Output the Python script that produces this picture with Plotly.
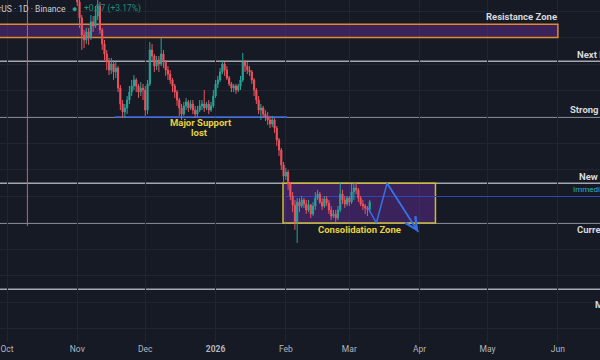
import plotly.graph_objects as go
import pandas as pd

# ---------------- data (LINK/USDT daily) ----------------
dates = pd.date_range("2025-10-01", "2026-03-10", freq="D")

opens = [
    20.9, 21.3, 21.9, 22.1, 21.8, 22.2, 22.5, 21.6, 22.0, 22.3,
    17.6, 18.1, 18.9, 19.2, 18.4, 18.0, 17.4, 16.9, 17.3, 17.6,
    18.0, 17.8, 17.2, 17.6, 17.9, 18.0, 18.4, 18.6, 18.1, 17.8,
    17.4,
    16.98, 16.34, 15.74, 15.09, 14.91, 15.21, 14.98, 15.59, 15.43, 15.81,
    16.19, 15.28, 14.75, 14.38, 14.08, 13.77, 14.00, 13.70, 13.85, 13.09,
    12.49, 12.19, 12.34, 12.64, 12.94, 13.17, 13.40, 13.17, 12.94, 13.09,
    13.02, 12.26, 13.25, 14.53, 14.30, 13.92, 14.15, 14.00, 14.38, 14.08,
    13.77, 13.62, 13.40, 13.17, 12.94, 12.64, 12.34, 12.11, 12.42, 12.57,
    12.34, 12.49, 12.26, 12.11, 12.26, 12.42, 12.49, 12.34, 12.49, 12.26,
    12.42, 12.79, 13.25, 13.40, 13.70, 14.00, 13.77, 13.47, 13.25, 13.09,
    13.17, 13.02, 13.17, 13.40, 14.08, 13.92, 13.77, 13.70, 13.40, 13.02,
    12.64, 12.26, 12.34, 12.11, 12.00, 11.89, 11.74, 11.89, 11.58, 11.13,
    10.75, 10.19, 9.77, 9.92, 9.47, 9.02, 8.68, 8.04, 8.79, 8.64,
    8.87, 8.72, 8.49, 8.68, 8.34, 8.64, 8.94, 9.09, 8.79, 8.64,
    8.91, 8.75, 8.49, 8.26, 8.34, 8.19, 8.49, 9.09, 8.87, 8.72,
    8.94, 8.79, 9.17, 9.32, 9.25, 8.94, 8.72, 8.64, 8.57, 8.52,
]
highs = [
    21.6, 22.2, 22.5, 22.3, 22.5, 22.9, 22.7, 22.3, 22.6, 22.6,
    18.6, 19.3, 19.7, 19.4, 18.7, 18.2, 17.6, 17.5, 17.9, 18.3,
    18.2, 17.9, 17.8, 18.1, 18.3, 18.7, 18.9, 18.8, 18.3, 18.0,
    17.6,
    17.17, 16.42, 15.85, 15.28, 15.36, 15.36, 15.85, 15.81, 16.19, 16.72,
    16.34, 15.36, 14.91, 14.53, 14.23, 14.23, 14.15, 14.08, 13.92, 13.21,
    12.64, 12.49, 12.79, 13.17, 13.40, 13.58, 13.47, 13.25, 13.32, 13.25,
    13.17, 13.40, 14.83, 14.75, 14.38, 14.30, 14.30, 14.98, 14.53, 14.15,
    13.92, 13.77, 13.47, 13.25, 13.02, 12.72, 12.49, 12.57, 12.72, 12.64,
    12.64, 12.64, 12.42, 12.42, 12.64, 12.64, 13.02, 12.57, 12.64, 12.57,
    13.02, 13.40, 13.55, 13.85, 14.15, 14.08, 13.92, 13.55, 13.32, 13.25,
    13.25, 13.25, 13.55, 14.42, 14.15, 14.08, 13.92, 13.77, 13.47, 13.09,
    12.79, 12.49, 12.42, 12.26, 12.19, 12.04, 12.04, 11.96, 11.66, 11.21,
    10.83, 10.30, 10.08, 10.00, 9.55, 9.17, 8.87, 8.94, 8.94, 9.02,
    8.94, 8.87, 8.87, 8.72, 8.79, 9.17, 9.25, 9.17, 8.94, 9.02,
    9.02, 8.87, 8.64, 8.49, 8.49, 8.64, 9.51, 9.25, 9.02, 9.02,
    9.02, 9.47, 9.51, 9.51, 9.32, 9.02, 8.87, 8.72, 8.64, 8.87,
]
lows = [
    20.7, 21.1, 21.7, 21.5, 21.6, 22.0, 21.3, 21.4, 21.8, 7.89,
    17.2, 17.9, 18.7, 18.1, 17.7, 17.1, 16.6, 16.7, 17.1, 17.4,
    17.5, 17.0, 16.9, 17.4, 17.6, 17.8, 18.2, 17.9, 17.5, 17.2,
    16.8,
    16.19, 15.36, 14.53, 14.60, 14.75, 14.72, 14.91, 15.21, 15.36, 15.66,
    15.13, 14.53, 14.15, 13.77, 13.58, 13.62, 13.40, 13.47, 12.94, 12.26,
    11.96, 11.96, 12.11, 12.49, 12.79, 13.02, 12.94, 12.72, 12.79, 12.64,
    12.04, 12.11, 13.17, 14.08, 13.70, 13.77, 13.70, 13.92, 13.85, 13.55,
    13.40, 13.25, 12.94, 12.72, 12.42, 12.04, 11.89, 12.04, 12.26, 12.19,
    12.26, 12.11, 11.96, 12.00, 12.19, 12.26, 12.19, 12.26, 12.11, 12.19,
    12.34, 12.72, 13.09, 13.32, 13.62, 13.55, 13.40, 13.17, 12.94, 12.94,
    12.87, 12.94, 13.02, 13.32, 13.70, 13.62, 13.55, 13.25, 12.79, 12.49,
    12.11, 11.89, 11.96, 11.85, 11.70, 11.58, 11.62, 11.40, 10.91, 10.53,
    10.00, 9.55, 9.62, 9.25, 8.87, 8.41, 7.74, 7.25, 8.41, 8.57,
    8.57, 8.34, 8.41, 8.19, 8.26, 8.49, 8.87, 8.72, 8.49, 8.57,
    8.64, 8.34, 8.11, 8.19, 8.04, 8.11, 8.41, 8.72, 8.57, 8.64,
    8.64, 8.72, 8.87, 9.09, 8.79, 8.64, 8.49, 8.34, 8.26, 8.41,
]
closes = [
    21.3, 21.9, 22.1, 21.8, 22.2, 22.5, 21.6, 22.0, 22.3, 17.6,
    18.1, 18.9, 19.2, 18.4, 18.0, 17.4, 16.9, 17.3, 17.6, 18.0,
    17.8, 17.2, 17.6, 17.9, 18.0, 18.4, 18.6, 18.1, 17.8, 17.4,
    16.98,
    16.34, 15.74, 15.09, 14.91, 15.21, 14.98, 15.59, 15.43, 15.81, 16.19,
    15.28, 14.75, 14.38, 14.08, 13.77, 14.00, 13.70, 13.85, 13.09, 12.49,
    12.19, 12.34, 12.64, 12.94, 13.17, 13.40, 13.17, 12.94, 13.09, 13.02,
    12.26, 13.25, 14.53, 14.30, 13.92, 14.15, 14.00, 14.38, 14.08, 13.77,
    13.62, 13.40, 13.17, 12.94, 12.64, 12.34, 12.11, 12.42, 12.57, 12.34,
    12.49, 12.26, 12.11, 12.26, 12.42, 12.49, 12.34, 12.49, 12.26, 12.42,
    12.79, 13.25, 13.40, 13.70, 14.00, 13.77, 13.47, 13.25, 13.09, 13.17,
    13.02, 13.17, 13.40, 14.08, 13.92, 13.77, 13.70, 13.40, 13.02, 12.64,
    12.26, 12.34, 12.11, 12.00, 11.89, 11.74, 11.89, 11.58, 11.13, 10.75,
    10.19, 9.77, 9.92, 9.47, 9.02, 8.68, 8.04, 8.79, 8.64, 8.87,
    8.72, 8.49, 8.68, 8.34, 8.64, 8.94, 9.09, 8.79, 8.64, 8.91,
    8.75, 8.49, 8.26, 8.34, 8.19, 8.49, 9.09, 8.87, 8.72, 8.94,
    8.79, 9.17, 9.32, 9.25, 8.94, 8.72, 8.64, 8.57, 8.52, 8.79,
]

# horizontal levels (price)
level_prices = [14.1, 12.0, 9.5, 8.0, 5.5]
level_labels = ["Next Resistance", "Strong Resistance", "New Resistance",
                "Current Support", "Major Support"]
resistance_zone = [15.0, 15.5]
consolidation_zone = [8.0, 9.5]
consolidation_dates = ["2026-01-30 18:00", "2026-04-08 00:00"]
major_support_price = 12.0
major_support_dates = ["2025-11-17 15:00", "2026-02-01 12:00"]
immediate_price = 9.0
immediate_start = "2026-02-01 00:00"

# projected zig-zag path
zig_dates = ["2026-03-09 06:00", "2026-03-12 22:00", "2026-03-17 16:00", "2026-03-31 10:00"]
zig_prices = [8.57, 8.0, 9.5, 7.66]

month_ticks = ["2025-10-01", "2025-11-01", "2025-12-01", "2026-01-01", "2026-02-01",
               "2026-03-01", "2026-04-01", "2026-05-01", "2026-06-01"]
month_text = ["Oct", "Nov", "Dec", "<b>2026</b>", "Feb", "Mar", "Apr", "May", "Jun"]

# ---------------- styling ----------------
BG = "#161a25"
GRID = "#212532"
UP = "#26a69a"
DN = "#f0525c"
LEVEL = "rgba(190,193,200,0.85)"
YEL = "#e8cf3d"
FONT = "Roboto"

fig = go.Figure()
fig.add_trace(go.Candlestick(
    x=dates, open=opens, high=highs, low=lows, close=closes,
    increasing=dict(line=dict(color=UP, width=1), fillcolor=UP),
    decreasing=dict(line=dict(color=DN, width=1), fillcolor=DN),
    whiskerwidth=0, hoverinfo="skip", showlegend=False,
))
fig.add_trace(go.Scatter(
    x=zig_dates, y=zig_prices, mode="lines",
    line=dict(color="#3570e6", width=1.5), hoverinfo="skip", showlegend=False,
))

shapes = []
# grey level lines
for p in level_prices:
    shapes.append(dict(type="line", xref="paper", x0=0, x1=1, yref="y", y0=p, y1=p,
                       line=dict(color=LEVEL, width=1.5), layer="between"))
# resistance zone
shapes.append(dict(type="rect", xref="x", x0="2025-09-01", x1="2026-06-01", yref="y",
                   y0=resistance_zone[0], y1=resistance_zone[1],
                   fillcolor="rgba(110,50,170,0.40)",
                   line=dict(color="#e08a2c", width=1.5), layer="between"))
# consolidation zone
shapes.append(dict(type="rect", xref="x", x0=consolidation_dates[0], x1=consolidation_dates[1],
                   yref="y", y0=consolidation_zone[0], y1=consolidation_zone[1],
                   fillcolor="rgba(110,50,170,0.40)",
                   line=dict(color="#cdb93c", width=1.5), layer="between"))
# blue support line
shapes.append(dict(type="line", xref="x", x0=major_support_dates[0], x1=major_support_dates[1],
                   yref="y", y0=major_support_price, y1=major_support_price,
                   line=dict(color="#3a67e0", width=1.5), layer="between"))
# immediate resistance blue line
shapes.append(dict(type="line", xref="x", x0=immediate_start, x1="2026-07-15",
                   yref="y", y0=immediate_price, y1=immediate_price,
                   line=dict(color="#3446b8", width=1), layer="between"))

W, PH = 600.0, 342.0
def px(xp):
    return xp / W

annotations = []
# right-side level labels (cut off by the window edge, as in the reference)
label_pos = [(575, 14.34), (568, 12.30), (577, 9.77), (575, 7.77), (593, 4.91)]
for (xp, yv), txt in zip(label_pos, level_labels):
    annotations.append(dict(xref="paper", x=px(xp), xanchor="left", yref="y", y=yv,
                            text="<b>" + txt + "</b>", showarrow=False,
                            font=dict(family=FONT, size=9.5, color="#d6d8de")))
annotations.append(dict(xref="paper", x=px(571), xanchor="left", yref="y", y=9.25,
                        text="Immediate Resistance", showarrow=False,
                        font=dict(family=FONT, size=8, color="#2bb3c8")))
annotations.append(dict(xref="paper", x=px(559), xanchor="right", yref="y", y=15.78,
                        text="<b>Resistance Zone</b>", showarrow=False,
                        font=dict(family=FONT, size=9.5, color="#d6d8de")))
annotations.append(dict(xref="x", x="2025-12-25 14:00", xanchor="center", yref="y", y=11.78,
                        text="<b>Major Support</b>", showarrow=False,
                        font=dict(family=FONT, size=9.5, color=YEL)))
annotations.append(dict(xref="x", x="2025-12-25 00:00", xanchor="center", yref="y", y=11.43,
                        text="<b>lost</b>", showarrow=False,
                        font=dict(family=FONT, size=9.5, color=YEL)))
annotations.append(dict(xref="x", x="2026-03-05 17:00", xanchor="center", yref="y", y=7.74,
                        text="<b>Consolidation Zone</b>", showarrow=False,
                        font=dict(family=FONT, size=9.5, color=YEL)))
# arrow head on the projected path
annotations.append(dict(xref="x", yref="y", x=zig_dates[-1], y=zig_prices[-1],
                        axref="x", ayref="y", ax=zig_dates[-2], ay=zig_prices[-2],
                        text="", showarrow=True, arrowhead=5, arrowsize=1.6,
                        arrowwidth=1.5, arrowcolor="#3570e6", standoff=0))
# top-left legend
annotations.append(dict(xref="paper", x=px(68), xanchor="right", yref="paper", y=1 - 9 / PH,
                        yanchor="middle", text="Chainlink / TetherUS · 1D · Binance",
                        showarrow=False, font=dict(family=FONT, size=8.5, color="#c9ccd4")))
annotations.append(dict(xref="paper", x=px(74), xanchor="center", yref="paper", y=1 - 9 / PH,
                        yanchor="middle", text="●", showarrow=False,
                        font=dict(family=FONT, size=9, color="#1fa88f")))
annotations.append(dict(xref="paper", x=px(82), xanchor="left", yref="paper", y=1 - 9 / PH,
                        yanchor="middle", text="+0.27 (+3.17%)", showarrow=False,
                        font=dict(family=FONT, size=8.5, color="#1d8f7e")))

fig.update_layout(
    width=600, height=360,
    margin=dict(l=0, r=0, t=0, b=18),
    paper_bgcolor=BG, plot_bgcolor=BG,
    shapes=shapes, annotations=annotations,
    showlegend=False, dragmode=False, hovermode=False,
    xaxis=dict(
        range=["2025-09-27 21:50", "2026-06-19 14:00"],
        tickvals=month_ticks, ticktext=month_text,
        showgrid=True, gridcolor=GRID, gridwidth=1,
        zeroline=False, showline=False, ticks="",
        tickfont=dict(family=FONT, size=8.5, color="#b2b5be"),
        rangeslider=dict(visible=False), fixedrange=True,
    ),
    yaxis=dict(
        range=[3.509, 16.415], dtick=1, tick0=0,
        showgrid=True, gridcolor=GRID, gridwidth=1,
        zeroline=False, showticklabels=False, ticks="", fixedrange=True,
    ),
)

fig.write_html("out.html", config={"displayModeBar": False})
